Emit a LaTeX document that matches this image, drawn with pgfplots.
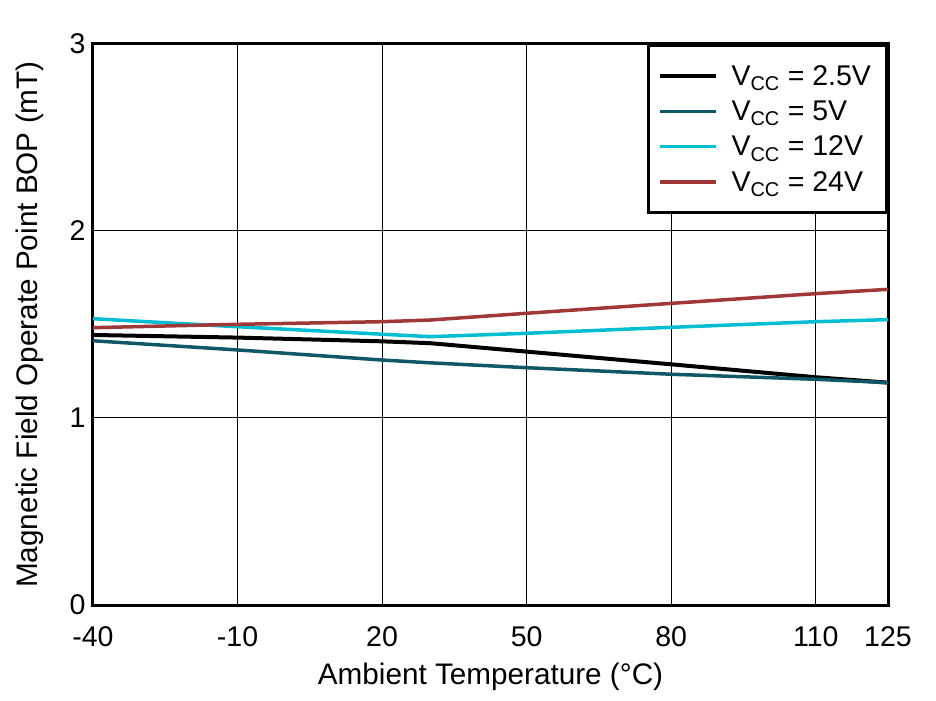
\documentclass[border=0pt]{standalone}
\usepackage{fontspec}
\setmainfont{Liberation Sans}
\usepackage{pgfplots}
\pgfplotsset{compat=1.18}
\definecolor{cA}{RGB}{0,0,0}
\definecolor{cB}{RGB}{16,88,104}
\definecolor{cC}{RGB}{0,190,210}
\definecolor{cD}{RGB}{160,56,56}
\begin{document}
\begin{tikzpicture}
\begin{axis}[
  name=ax,
  scale only axis,
  width=795bp, height=561bp,
  xmin=-40, xmax=125, ymin=0, ymax=3,
  xtick={-40,-10,20,50,80,110,125},
  ytick={0,1,2,3},
  major tick length=0pt,
  grid=major,
  major grid style={black, line width=1bp},
  axis line style={black, line width=3bp},
  /pgf/number format/assume math mode=true,
  ticklabel style={font=\fontsize{28.5bp}{34bp}\selectfont},
  xticklabel style={yshift=-18bp},
  yticklabel style={xshift=-4bp},
  label style={font=\fontsize{29.7bp}{36bp}\selectfont},
  xlabel={Ambient Temperature (°C)},
  ylabel={Magnetic Field Operate Point BOP (mT)},
  xlabel style={yshift=-9bp},
  ylabel style={yshift=19bp},
  legend style={at={(1,1)}, anchor=north east, draw=black, line width=3bp,
    font=\fontsize{28.5bp}{34bp}\selectfont, inner xsep=9.5bp, inner ysep=18bp,
    row sep=10bp, cells={anchor=west},
    nodes={inner xsep=6bp}},
  legend image code/.code={\draw[#1, line width=3.5bp] (0bp,0bp) -- (56bp,0bp); \path (64bp,0bp);},
  every axis plot/.append style={line width=3.5bp},
]
\addplot[cA, line width=4bp] coordinates {(-40,1.444) (-10,1.430) (20,1.410) (30,1.400) (50,1.355) (80,1.287) (110,1.218) (125,1.189)};
\addlegendentry{V\textsubscript{CC} = 2.5V}
\addplot[cB] coordinates {(-40,1.413) (-10,1.364) (20,1.310) (30,1.295) (50,1.269) (80,1.234) (110,1.207) (125,1.189)};
\addlegendentry{V\textsubscript{CC} = 5V}
\addplot[cC] coordinates {(-40,1.531) (-10,1.488) (20,1.448) (30,1.435) (50,1.453) (80,1.485) (110,1.515) (125,1.526)};
\addlegendentry{V\textsubscript{CC} = 12V}
\addplot[cD] coordinates {(-40,1.483) (-10,1.501) (20,1.515) (30,1.524) (50,1.560) (80,1.613) (110,1.665) (125,1.688)};
\addlegendentry{V\textsubscript{CC} = 24V}
\end{axis}
\path ([xshift=-93bp,yshift=-96bp]ax.south west) rectangle ([xshift=48bp,yshift=44bp]ax.north east);
\end{tikzpicture}
\end{document}
